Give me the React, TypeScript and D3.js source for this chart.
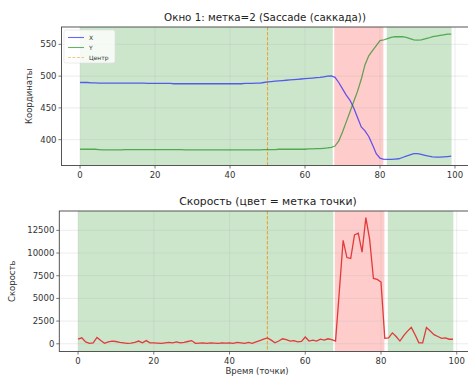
import { useEffect, useRef } from 'react';
import * as d3 from 'd3';

const xValues = [
  490, 490, 490, 489.5, 489.5, 489, 489, 489, 489, 489,
  489, 489, 489, 489, 489, 489, 489, 489, 488.5, 488.5,
  488.5, 488.5, 488.5, 488.5, 488.5, 488, 488, 488, 488, 488,
  488, 488, 488, 488, 488, 488, 488, 488, 488, 488,
  488, 488, 488, 488, 488.5, 488.5, 488.5, 489, 489, 490,
  491, 491.5, 492, 492.5, 493, 493.5, 494, 494.5, 495, 495.5,
  496, 496.5, 497, 497.5, 498, 499, 500, 500.5, 498, 490,
  480, 470, 462, 450, 435, 420, 414, 405, 392, 378,
  371, 369, 369, 369, 369.5, 370, 372, 374, 376, 378,
  378, 377, 375.5, 374, 373, 372.5, 372.5, 373, 373.5, 374,
];

const yValues = [
  385, 385, 385, 385, 385, 384.5, 384, 384, 384, 384,
  384, 384, 384.5, 384.5, 384.5, 384.5, 384.5, 384.5, 384.5, 384.5,
  384.5, 384.5, 384.5, 384.5, 384.5, 384.5, 384.5, 384.5, 384, 384,
  384, 384, 384, 384, 384, 384, 384, 384, 384, 384,
  384, 384, 384, 384, 384, 384, 384, 384, 384, 384.5,
  384.5, 384.5, 384.5, 385, 385, 385, 385, 385, 385, 385,
  385, 385.5, 385.5, 386, 386, 386.5, 387, 388, 390, 398,
  412, 428, 444, 460, 476, 495, 518, 532, 540, 548,
  556, 557, 559, 561, 562, 562, 562, 561, 559, 557,
  556.5, 557, 558.5, 560, 562, 563, 564, 565, 566, 566,
];

const speedValues = [
  500, 650, 200, 50, 100, 700, 350, 50, 200, 300,
  250, 150, 100, 50, 80, 150, 300, 100, 350, 100,
  100, 80, 50, 100, 150, 100, 200, 100, 150, 250,
  350, 50, 80, 100, 50, 100, 80, 50, 100, 80,
  100, 50, 150, 100, 50, 150, 50, 200, 350, 500,
  650, 400, 100, 300, 550, 450, 300, 350, 200, 250,
  750, 300, 400, 300, 500, 400, 550, 450, 300, 5800,
  11400, 9500, 9400, 12000, 12200, 10100, 13900, 11500, 7200, 7100,
  6800, 600, 650, 1200, 800, 300, 900, 1400, 1800, 1000,
  100, 100, 1800, 1400, 1000, 800, 600, 650, 500, 500,
];

// label segments: [start, end, label]
const segStarts = [0, 67.8, 81.8];
const segEnds = [67.4, 80.9, 99.1];
const segLabels = [0, 2, 0];

const xTicks = [0, 20, 40, 60, 80, 100];
const coordTicks = [400, 450, 500, 550];
const speedTicks = [0, 2500, 5000, 7500, 10000, 12500];
const centerIndex = 50;

const FONT = 'DejaVu Sans, sans-serif';
const CENTER_COLOR = '#e8a53a';

export default function App() {
  const svgRef = useRef<SVGSVGElement>(null);

  useEffect(() => {
    if (!svgRef.current) return;
    document.body.style.margin = '0';
    const svg = d3.select(svgRef.current);
    svg.selectAll('*').remove();

    const segColor = (l: number) => (l === 2 ? 'red' : 'green');

    const drawPanel = (
      box: { left: number; right: number; top: number; bottom: number },
      yDomain: [number, number],
      yTickVals: number[],
      title: string,
      titleX: number,
      titleSize: number,
      ylabel: string,
      ylabelX: number,
    ) => {
      const x = d3.scaleLinear().domain([-4.95, 103.95]).range([box.left, box.right]);
      const y = d3.scaleLinear().domain(yDomain).range([box.bottom, box.top]);
      const g = svg.append('g');

      g.append('defs').append('clipPath').attr('id', 'clip' + box.top)
        .append('rect').attr('x', box.left).attr('y', box.top)
        .attr('width', box.right - box.left).attr('height', box.bottom - box.top);

      const inner = g.append('g').attr('clip-path', `url(#clip${box.top})`);

      // spans
      segStarts.forEach((s, i) => {
        inner.append('rect')
          .attr('x', x(s))
          .attr('y', box.top)
          .attr('width', x(segEnds[i]) - x(s))
          .attr('height', box.bottom - box.top)
          .attr('fill', segColor(segLabels[i]))
          .attr('fill-opacity', 0.2);
      });

      // grid
      xTicks.forEach(t => {
        inner.append('line')
          .attr('x1', x(t)).attr('x2', x(t))
          .attr('y1', box.top).attr('y2', box.bottom)
          .attr('stroke', '#b0b0b0').attr('stroke-opacity', 0.3).attr('stroke-width', 0.8);
      });
      yTickVals.forEach(t => {
        inner.append('line')
          .attr('x1', box.left).attr('x2', box.right)
          .attr('y1', y(t)).attr('y2', y(t))
          .attr('stroke', '#b0b0b0').attr('stroke-opacity', 0.3).attr('stroke-width', 0.8);
      });

      // center line
      inner.append('line')
        .attr('x1', x(centerIndex)).attr('x2', x(centerIndex))
        .attr('y1', box.top).attr('y2', box.bottom)
        .attr('stroke', CENTER_COLOR)
        .attr('stroke-width', 1.1).attr('stroke-dasharray', '3.5,1.5');

      // frame
      g.append('rect')
        .attr('x', box.left).attr('y', box.top)
        .attr('width', box.right - box.left).attr('height', box.bottom - box.top)
        .attr('fill', 'none').attr('stroke', '#444').attr('stroke-width', 0.9);

      // ticks
      xTicks.forEach(t => {
        g.append('line')
          .attr('x1', x(t)).attr('x2', x(t))
          .attr('y1', box.bottom).attr('y2', box.bottom + 3)
          .attr('stroke', '#555').attr('stroke-width', 0.8);
        g.append('text')
          .attr('x', x(t)).attr('y', box.bottom + 12)
          .attr('text-anchor', 'middle')
          .attr('font-family', FONT).attr('font-size', '8.5px').attr('fill', '#333')
          .text(t);
      });
      yTickVals.forEach(t => {
        g.append('line')
          .attr('x1', box.left - 3).attr('x2', box.left)
          .attr('y1', y(t)).attr('y2', y(t))
          .attr('stroke', '#555').attr('stroke-width', 0.8);
        g.append('text')
          .attr('x', box.left - 5).attr('y', y(t))
          .attr('dy', '0.35em')
          .attr('text-anchor', 'end')
          .attr('font-family', FONT).attr('font-size', '8.5px').attr('fill', '#333')
          .text(t);
      });

      svg.append('text')
        .attr('x', titleX).attr('y', box.top - 6)
        .attr('text-anchor', 'middle')
        .attr('font-family', FONT).attr('font-size', `${titleSize}px`).attr('fill', '#222')
        .text(title);

      svg.append('text')
        .attr('transform', `translate(${ylabelX},${(box.top + box.bottom) / 2}) rotate(-90)`)
        .attr('text-anchor', 'middle')
        .attr('font-family', FONT).attr('font-size', '8.5px').attr('fill', '#333')
        .text(ylabel);

      return { x, y, inner };
    };

    // Top panel: coordinates
    const top = drawPanel(
      { left: 61.5, right: 469.8, top: 27, bottom: 165.5 },
      [359.4, 577.3],
      coordTicks,
      'Окно 1: метка=2 (Saccade (саккада))',
      265,
      10.3,
      'Координаты',
      32,
    );
    const lineTop = d3.line<number>().x((_, i) => top.x(i));
    top.inner.append('path')
      .attr('d', lineTop.y(d => top.y(d))(xValues))
      .attr('fill', 'none').attr('stroke', 'blue').attr('stroke-opacity', 0.6).attr('stroke-width', 1.3);
    top.inner.append('path')
      .attr('d', lineTop.y(d => top.y(d))(yValues))
      .attr('fill', 'none').attr('stroke', 'green').attr('stroke-opacity', 0.6).attr('stroke-width', 1.3);

    // legend
    const lg = svg.append('g');
    lg.append('rect')
      .attr('x', 64).attr('y', 30).attr('width', 51).attr('height', 33).attr('rx', 2)
      .attr('fill', 'white').attr('fill-opacity', 0.8)
      .attr('stroke', '#ddd').attr('stroke-width', 0.6);
    const legendItems = [
      { label: 'X', color: 'blue', dash: null as string | null },
      { label: 'Y', color: 'green', dash: null as string | null },
      { label: 'Центр', color: CENTER_COLOR, dash: '3,1.5' },
    ];
    legendItems.forEach((it, i) => {
      const yy = 37.5 + i * 10;
      const ln = lg.append('line')
        .attr('x1', 68).attr('x2', 84).attr('y1', yy).attr('y2', yy)
        .attr('stroke', it.color).attr('stroke-opacity', 0.6).attr('stroke-width', 1.1);
      if (it.dash) ln.attr('stroke-dasharray', it.dash);
      lg.append('text')
        .attr('x', 89).attr('y', yy).attr('dy', '0.35em')
        .attr('font-family', FONT).attr('font-size', '6px').attr('fill', '#333')
        .text(it.label);
    });

    // Bottom panel: speed
    const bot = drawPanel(
      { left: 59.3, right: 471.7, top: 211, bottom: 351.5 },
      [-852, 14635],
      speedTicks,
      'Скорость (цвет = метка точки)',
      268,
      10.8,
      'Скорость',
      15,
    );
    bot.inner.append('path')
      .attr('d', d3.line<number>().x((_, i) => bot.x(i)).y(d => bot.y(d))(speedValues))
      .attr('fill', 'none').attr('stroke', '#e03a3a').attr('stroke-width', 1.3);

    svg.append('text')
      .attr('x', 257).attr('y', 374)
      .attr('text-anchor', 'middle')
      .attr('font-family', FONT).attr('font-size', '8.5px').attr('fill', '#333')
      .text('Время (точки)');
  }, []);

  return <svg ref={svgRef} width={468} height={379} style={{ display: 'block', background: 'white' }} />;
}
